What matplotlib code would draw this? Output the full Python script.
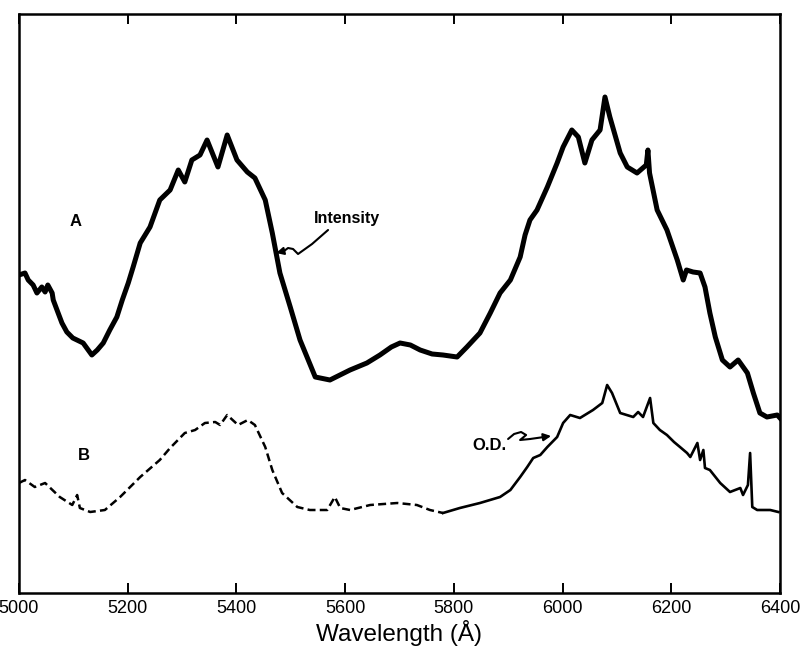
import matplotlib
matplotlib.use("Agg")
import matplotlib.pyplot as plt

# ---- data (wavelength in Angstrom, signal in arbitrary units) ----
wl_A = [5000, 5011, 5017, 5026, 5033, 5042, 5048, 5053, 5061, 5063, 5072, 5079,
        5088, 5099, 5118, 5134, 5144, 5155, 5167, 5180, 5190, 5201, 5210, 5223,
        5241, 5259, 5278, 5293, 5305, 5318, 5333, 5346, 5366, 5383, 5401, 5420,
        5434, 5453, 5466, 5480, 5499, 5517, 5545, 5572, 5609, 5640, 5664, 5685,
        5701, 5720, 5738, 5760,
        5780, 5806, 5824, 5848, 5867, 5885, 5904, 5922, 5931, 5940, 5953, 5972,
        5990, 6001, 6017, 6029, 6041, 6054, 6069, 6078, 6087, 6106, 6119, 6137,
        6154, 6157, 6160, 6174, 6192, 6211, 6222, 6228, 6240, 6253, 6262, 6271,
        6281, 6294, 6308, 6323, 6340, 6351, 6363, 6376, 6395, 6400]
int_A = [335, 337, 330, 325, 317, 323, 318, 325, 317, 310, 297, 287,
         278, 272, 267, 255, 260, 267, 280, 293, 310, 327, 343, 367,
         383, 410, 420, 440, 428, 450, 455, 470, 443, 475, 450, 438,
         432, 410, 377, 337, 303, 270, 233, 230, 240, 247, 255, 263,
         267, 265, 260, 256,
         255, 253, 263, 277, 297, 317, 330, 353, 375, 390, 400, 423,
         447, 463, 480, 473, 447, 470, 480, 513, 493, 457, 443, 437,
         445, 460, 437, 400, 380, 350, 330, 340, 338, 337, 323, 297,
         273, 250, 243, 250, 237, 217, 197, 193, 195, 192]

wl_B = [5000, 5011, 5029, 5048, 5075, 5098, 5107, 5112, 5131, 5158, 5186, 5223,
        5259, 5278, 5305, 5324, 5342, 5361, 5370, 5383, 5403, 5421, 5434, 5453,
        5466, 5484, 5512, 5535, 5567, 5581, 5591, 5609, 5646, 5696, 5732, 5756,
        5780, 5811, 5848, 5885, 5904, 5922, 5935, 5946, 5959, 5972, 5990, 6001,
        6014, 6032, 6056, 6073, 6082, 6091, 6106, 6130, 6139, 6148, 6161, 6167,
        6179, 6192, 6205, 6216, 6229, 6235, 6248, 6253, 6259, 6262, 6271, 6290,
        6308, 6327, 6332, 6341, 6345, 6349, 6358, 6382, 6397]
od_B = [127, 130, 123, 127, 113, 105, 115, 102, 98, 100, 113, 133,
        150, 162, 177, 180, 187, 188, 185, 195, 185, 190, 185, 163,
        140, 117, 103, 100, 100, 113, 102, 100, 105, 107, 105, 100,
        97, 102, 107, 113, 120, 133, 143, 152, 155, 163, 173, 187,
        195, 192, 200, 207, 225, 217, 197, 193, 198, 193, 212, 187,
        180, 175, 168, 163, 157, 153, 167, 150, 160, 142, 140, 127,
        118, 122, 115, 125, 157, 103, 100, 100, 98]
split_wl = 5780  # B is dashed below, solid above

x_ticks = [5000, 5200, 5400, 5600, 5800, 6000, 6200, 6400]
x_ticklabels = [str(t) for t in x_ticks]

FONT = ['Liberation Sans', 'DejaVu Sans']
plt.rcParams['font.family'] = FONT

fig = plt.figure(figsize=(8.04, 6.5), dpi=100)
ax = fig.add_axes([19/804, 57/650, (780-19)/804, (593-14)/650])

def px(x, y):
    return 5000 + (x - 19) * 1.84, 610 - y

ax.plot(wl_A, int_A, color='black', lw=3.6, solid_joinstyle='round')

i_split = wl_B.index(split_wl)
ax.plot(wl_B[:i_split + 1], od_B[:i_split + 1], color='black', lw=1.8,
        linestyle=(0, (3.2, 1.7)))
ax.plot(wl_B[i_split:], od_B[i_split:], color='black', lw=1.9)

ax.set_xlim(5000, 6400)
ax.set_ylim(17, 596)
ax.set_xticks(x_ticks)
ax.set_xticklabels(x_ticklabels, fontsize=13)
ax.set_yticks([])
ax.tick_params(axis='x', direction='in', top=True, length=7, width=1.4, pad=5)
for s in ax.spines.values():
    s.set_linewidth(1.8)
ax.set_xlabel('Wavelength (Å)', fontsize=17.5, labelpad=2)

# labels
ax.text(*px(76, 221), 'A', fontsize=12, fontweight='bold', ha='center', va='center')
ax.text(*px(84, 455), 'B', fontsize=12, fontweight='bold', ha='center', va='center')
ax.text(*px(314, 218), 'Intensity', fontsize=11.5, fontweight='bold', ha='left', va='center')
ax.text(*px(489, 446), 'O.D.', fontsize=12, fontweight='bold', ha='center', va='center')

# squiggle arrows
def squiggle(pts):
    xs, ys = zip(*[px(*p) for p in pts])
    ax.plot(xs[:-1], ys[:-1], color='black', lw=1.5, solid_capstyle='round')
    ax.annotate('', xy=(xs[-1], ys[-1]), xytext=(xs[-2], ys[-2]),
                arrowprops=dict(arrowstyle='-|>', color='black', lw=1.5,
                                mutation_scale=11, shrinkA=0, shrinkB=0))

squiggle([(328, 230), (312, 244), (298, 254), (293, 249), (288, 248), (284, 251), (276, 253)])
squiggle([(508, 439), (514, 434), (521, 432), (526, 435), (520, 440), (530, 439), (551, 436)])

fig.savefig('out.png', dpi=100)
